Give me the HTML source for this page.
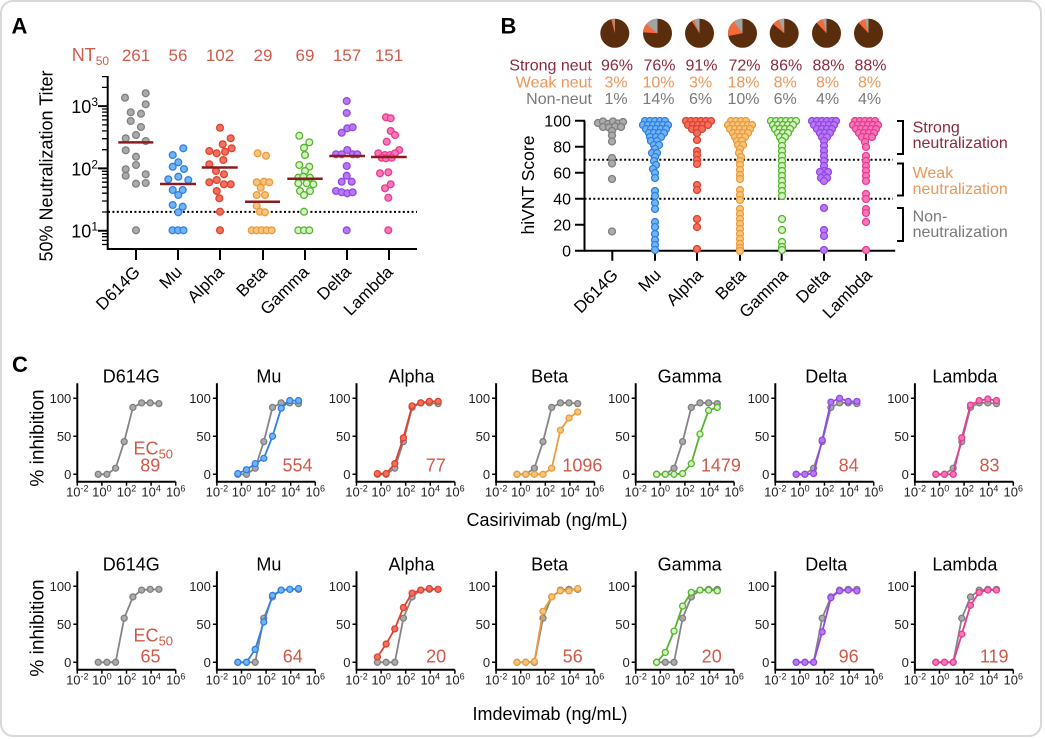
<!DOCTYPE html>
<html><head><meta charset="utf-8">
<style>
html,body{margin:0;padding:0;background:#fff;}
svg{display:block;font-family:"Liberation Sans",Arial,sans-serif;}
.ax{fill:none;stroke:#000;stroke-width:2;}
.tk{font-size:13px;fill:#222;}
.tx{text-anchor:middle;}
.ec{font-size:18px;fill:#d0594a;text-anchor:middle;}
.ttl{font-size:18px;fill:#000;text-anchor:middle;}
.g circle,circle.g{fill:#ababab;stroke:#7f7f7f;stroke-width:1.3;}
.b circle{fill:#72b4f2;stroke:#2e80e6;stroke-width:1.3;}
.r circle{fill:#f2705e;stroke:#e0412e;stroke-width:1.3;}
.o circle{fill:#f7c47e;stroke:#eb9c3a;stroke-width:1.3;}
.gr circle{fill:#d6f2c2;stroke:#55b52e;stroke-width:1.3;}
.p circle{fill:#b779f3;stroke:#9546e6;stroke-width:1.3;}
.pk circle{fill:#f577b8;stroke:#ea3b92;stroke-width:1.3;}
.lg{fill:none;stroke:#858585;stroke-width:1.8;}
.lb{fill:none;stroke:#2e80e6;stroke-width:1.8;}
.lr{fill:none;stroke:#e0412e;stroke-width:1.8;}
.lo{fill:none;stroke:#eb9c3a;stroke-width:1.8;}
.lgr{fill:none;stroke:#55b52e;stroke-width:1.8;}
.lp{fill:none;stroke:#9546e6;stroke-width:1.8;}
.lpk{fill:none;stroke:#ea3b92;stroke-width:1.8;}
.med{stroke:#8a1c1c;stroke-width:2.5;}
.dot{stroke:#000;stroke-width:2;stroke-dasharray:2 2.4;}
.sup{font-size:9px;}
</style></head>
<body>
<svg width="1045" height="739" viewBox="0 0 1045 739" xmlns="http://www.w3.org/2000/svg">
<rect x="1" y="1" width="1040" height="735" rx="12" fill="#fff" stroke="#d8d8d8" stroke-width="2"/>

<!-- ================= PANEL A ================= -->
<text x="11.5" y="33.5" font-size="22" font-weight="bold">A</text>
<g font-size="17" fill="#cf5b4b" text-anchor="middle">
<text x="71.7" y="61" text-anchor="start" font-size="18">NT<tspan font-size="12" dy="4">50</tspan></text>
<text x="136" y="61">261</text><text x="178" y="61">56</text><text x="220" y="61">102</text><text x="263" y="61">29</text><text x="305" y="61">69</text><text x="347" y="61">157</text><text x="389" y="61">151</text>
</g>
<text transform="translate(52.5,166) rotate(-90)" text-anchor="middle" font-size="18">50% Neutralization Titer</text>
<path class="ax" stroke-width="2.5" d="M107.7,76V249H417"/>
<path stroke="#000" stroke-width="2" d="M98,230.7H108M98,168.4H108M98,106.1H108M136,249v11M178,249v11M220,249v11M263,249v11M305,249v11M347,249v11M389,249v11"/>
<path stroke="#000" stroke-width="1.3" d="M102,244.5H108M102,240.4H108M102,236.7H108M102,233.6H108M102,212H108M102,201H108M102,193.2H108M102,187.2H108M102,182.2H108M102,178.1H108M102,174.4H108M102,171.3H108M102,149.7H108M102,138.7H108M102,130.9H108M102,124.9H108M102,119.9H108M102,115.8H108M102,112.1H108M102,109H108M102,87.4H108M102,76.6H108"/>
<g font-size="18" text-anchor="end">
<text x="98" y="113">10<tspan font-size="12" dy="-7">3</tspan></text>
<text x="98" y="175.4">10<tspan font-size="12" dy="-7">2</tspan></text>
<text x="98" y="237.7">10<tspan font-size="12" dy="-7">1</tspan></text>
</g>
<line class="dot" x1="108" y1="211.9" x2="417" y2="211.9"/>
<g class="g">
<circle cx="125" cy="97.7" r="3.4"/><circle cx="145.7" cy="93.3" r="3.4"/><circle cx="145.7" cy="104.3" r="3.4"/><circle cx="130.7" cy="112.3" r="3.4"/><circle cx="141" cy="113.7" r="3.4"/><circle cx="130.7" cy="121" r="3.4"/><circle cx="141" cy="127" r="3.4"/><circle cx="136" cy="135" r="3.4"/><circle cx="125.7" cy="138.3" r="3.4"/><circle cx="145.7" cy="141" r="3.4"/><circle cx="125.7" cy="150.3" r="3.4"/><circle cx="136" cy="156.7" r="3.4"/><circle cx="136" cy="165" r="3.4"/><circle cx="125.7" cy="169.3" r="3.4"/><circle cx="125.7" cy="175.7" r="3.4"/><circle cx="145.7" cy="174.3" r="3.4"/><circle cx="136" cy="183.7" r="3.4"/><circle cx="145.7" cy="183" r="3.4"/><circle cx="136" cy="230.3" r="3.4"/>
</g>
<g class="b">
<circle cx="183.3" cy="148.3" r="3.4"/><circle cx="172.7" cy="155" r="3.4"/><circle cx="178.3" cy="162.3" r="3.4"/><circle cx="172.7" cy="166.7" r="3.4"/><circle cx="184" cy="169" r="3.4"/><circle cx="168.3" cy="179.3" r="3.4"/><circle cx="178.3" cy="176.7" r="3.4"/><circle cx="188.3" cy="180" r="3.4"/><circle cx="172.7" cy="190" r="3.4"/><circle cx="182.7" cy="190" r="3.4"/><circle cx="178.3" cy="195" r="3.4"/><circle cx="172.7" cy="205" r="3.4"/><circle cx="182.7" cy="206.7" r="3.4"/><circle cx="178.3" cy="212.3" r="3.4"/><circle cx="172.5" cy="230.3" r="3.4"/><circle cx="178" cy="230.3" r="3.4"/><circle cx="183.5" cy="230.3" r="3.4"/>
</g>
<g class="r">
<circle cx="220" cy="127.7" r="3.4"/><circle cx="230.7" cy="138.3" r="3.4"/><circle cx="222.7" cy="144.3" r="3.4"/><circle cx="209.3" cy="151" r="3.4"/><circle cx="216.7" cy="153.3" r="3.4"/><circle cx="225" cy="151.7" r="3.4"/><circle cx="231.7" cy="148.3" r="3.4"/><circle cx="223.3" cy="160" r="3.4"/><circle cx="209.3" cy="164.3" r="3.4"/><circle cx="216" cy="171" r="3.4"/><circle cx="224" cy="174.3" r="3.4"/><circle cx="209.3" cy="182.3" r="3.4"/><circle cx="216.7" cy="180" r="3.4"/><circle cx="224" cy="184.3" r="3.4"/><circle cx="230.7" cy="184.3" r="3.4"/><circle cx="216.7" cy="191" r="3.4"/><circle cx="219.3" cy="198.3" r="3.4"/><circle cx="220" cy="211.7" r="3.4"/><circle cx="220" cy="230.3" r="3.4"/>
</g>
<g class="o">
<circle cx="257.7" cy="153.3" r="3.4"/><circle cx="266" cy="155.7" r="3.4"/><circle cx="256.7" cy="182.3" r="3.4"/><circle cx="264" cy="181.7" r="3.4"/><circle cx="269.3" cy="182.3" r="3.4"/><circle cx="260.7" cy="187.7" r="3.4"/><circle cx="256.7" cy="195" r="3.4"/><circle cx="265" cy="195" r="3.4"/><circle cx="256.7" cy="205.7" r="3.4"/><circle cx="260" cy="211.7" r="3.4"/><circle cx="265" cy="212.3" r="3.4"/><circle cx="251.7" cy="230.3" r="3.4"/><circle cx="256.7" cy="230.3" r="3.4"/><circle cx="261.7" cy="230.3" r="3.4"/><circle cx="266.7" cy="230.3" r="3.4"/><circle cx="271.7" cy="230.3" r="3.4"/>
</g>
<g class="gr">
<circle cx="299.3" cy="135.7" r="3.4"/><circle cx="309.3" cy="142.3" r="3.4"/><circle cx="304" cy="147.7" r="3.4"/><circle cx="305" cy="155" r="3.4"/><circle cx="299.3" cy="165" r="3.4"/><circle cx="309.3" cy="166.7" r="3.4"/><circle cx="305" cy="171" r="3.4"/><circle cx="298.3" cy="177.7" r="3.4"/><circle cx="303.3" cy="176.7" r="3.4"/><circle cx="310" cy="177.7" r="3.4"/><circle cx="298.3" cy="183.3" r="3.4"/><circle cx="306.7" cy="183.3" r="3.4"/><circle cx="313.3" cy="184.3" r="3.4"/><circle cx="300" cy="191" r="3.4"/><circle cx="310" cy="191" r="3.4"/><circle cx="304" cy="195" r="3.4"/><circle cx="304" cy="211.7" r="3.4"/><circle cx="298.3" cy="230.3" r="3.4"/><circle cx="304" cy="230.3" r="3.4"/><circle cx="309.3" cy="230.3" r="3.4"/>
</g>
<g class="p">
<circle cx="346.7" cy="101" r="3.4"/><circle cx="346.7" cy="113" r="3.4"/><circle cx="347.3" cy="128.3" r="3.4"/><circle cx="352.7" cy="127.3" r="3.4"/><circle cx="341.7" cy="132.7" r="3.4"/><circle cx="347.3" cy="150" r="3.4"/><circle cx="336" cy="154.3" r="3.4"/><circle cx="341.7" cy="154.3" r="3.4"/><circle cx="352.7" cy="154.3" r="3.4"/><circle cx="357.3" cy="154.3" r="3.4"/><circle cx="346.7" cy="166" r="3.4"/><circle cx="346.7" cy="175.7" r="3.4"/><circle cx="341.7" cy="181.7" r="3.4"/><circle cx="351.7" cy="181.7" r="3.4"/><circle cx="336" cy="191" r="3.4"/><circle cx="341.7" cy="192.3" r="3.4"/><circle cx="347.3" cy="193.3" r="3.4"/><circle cx="352.7" cy="192.3" r="3.4"/><circle cx="346.7" cy="230.3" r="3.4"/>
</g>
<g class="pk">
<circle cx="386" cy="117.3" r="3.4"/><circle cx="390.7" cy="118.3" r="3.4"/><circle cx="390.7" cy="131" r="3.4"/><circle cx="395" cy="135" r="3.4"/><circle cx="386.7" cy="141.7" r="3.4"/><circle cx="399.3" cy="150" r="3.4"/><circle cx="378.3" cy="153.3" r="3.4"/><circle cx="385" cy="155" r="3.4"/><circle cx="390" cy="155" r="3.4"/><circle cx="395" cy="153.3" r="3.4"/><circle cx="381.7" cy="157.7" r="3.4"/><circle cx="386" cy="158.3" r="3.4"/><circle cx="391.7" cy="157.7" r="3.4"/><circle cx="388.3" cy="172.3" r="3.4"/><circle cx="380" cy="173.3" r="3.4"/><circle cx="390.7" cy="184.3" r="3.4"/><circle cx="385" cy="188.3" r="3.4"/><circle cx="388.3" cy="197.7" r="3.4"/><circle cx="388.3" cy="230.3" r="3.4"/>
</g>
<path class="med" d="M118.3,142.4H153.3M160,184H196M201.7,167.5H237.7M245,201.8H280M287.3,178.8H322.7M329.3,156H365M371,157H406.7"/>
<g font-size="17" text-anchor="end">
<text transform="translate(141,273) rotate(-45)">D614G</text>
<text transform="translate(183,273) rotate(-45)">Mu</text>
<text transform="translate(225,273) rotate(-45)">Alpha</text>
<text transform="translate(268,273) rotate(-45)">Beta</text>
<text transform="translate(310,273) rotate(-45)">Gamma</text>
<text transform="translate(352,273) rotate(-45)">Delta</text>
<text transform="translate(394,273) rotate(-45)">Lambda</text>
</g>

<!-- ================= PANEL B ================= -->
<text x="500.5" y="33.5" font-size="22" font-weight="bold">B</text>
<g>
<g transform="translate(614.8,33.3)"><circle r="14.5" fill="#5a2d0c"/><path d="M0,0L-3.61,-14.04A14.5,14.5 0 0 1 0,-14.5Z" fill="#f26b3a"/><path d="M0,0L-0.91,-14.47A14.5,14.5 0 0 1 0,-14.5Z" fill="#a3a3a3"/></g>
<g transform="translate(657.5,33.3)"><circle r="14.5" fill="#5a2d0c"/><path d="M0,0L-14.47,-0.91A14.5,14.5 0 0 1 0,-14.5Z" fill="#f26b3a"/><path d="M0,0L-11.17,-9.24A14.5,14.5 0 0 1 0,-14.5Z" fill="#a3a3a3"/></g>
<g transform="translate(699.5,33.3)"><circle r="14.5" fill="#5a2d0c"/><path d="M0,0L-7.77,-12.24A14.5,14.5 0 0 1 0,-14.5Z" fill="#f26b3a"/><path d="M0,0L-5.34,-13.48A14.5,14.5 0 0 1 0,-14.5Z" fill="#a3a3a3"/></g>
<g transform="translate(742.5,33.3)"><circle r="14.5" fill="#5a2d0c"/><path d="M0,0L-14.24,2.72A14.5,14.5 0 0 1 0,-14.5Z" fill="#f26b3a"/><path d="M0,0L-8.52,-11.73A14.5,14.5 0 0 1 0,-14.5Z" fill="#a3a3a3"/></g>
<g transform="translate(784.2,33.3)"><circle r="14.5" fill="#5a2d0c"/><path d="M0,0L-11.17,-9.24A14.5,14.5 0 0 1 0,-14.5Z" fill="#f26b3a"/><path d="M0,0L-5.34,-13.48A14.5,14.5 0 0 1 0,-14.5Z" fill="#a3a3a3"/></g>
<g transform="translate(826.5,33.3)"><circle r="14.5" fill="#5a2d0c"/><path d="M0,0L-9.93,-10.57A14.5,14.5 0 0 1 0,-14.5Z" fill="#f26b3a"/><path d="M0,0L-3.61,-14.04A14.5,14.5 0 0 1 0,-14.5Z" fill="#a3a3a3"/></g>
<g transform="translate(868.5,33.3)"><circle r="14.5" fill="#5a2d0c"/><path d="M0,0L-9.93,-10.57A14.5,14.5 0 0 1 0,-14.5Z" fill="#f26b3a"/><path d="M0,0L-3.61,-14.04A14.5,14.5 0 0 1 0,-14.5Z" fill="#a3a3a3"/></g>
</g>
<g font-size="16">
<g fill="#8c2a3c"><text x="592" y="70.7" text-anchor="end">Strong neut</text>
<g text-anchor="middle"><text x="617" y="70.7">96%</text><text x="659.5" y="70.7">76%</text><text x="701.5" y="70.7">91%</text><text x="744.5" y="70.7">72%</text><text x="786.2" y="70.7">86%</text><text x="828.5" y="70.7">88%</text><text x="870.5" y="70.7">88%</text></g></g>
<g fill="#e9975a"><text x="592" y="87.3" text-anchor="end">Weak neut</text>
<g text-anchor="middle"><text x="616" y="87.3">3%</text><text x="658.5" y="87.3">10%</text><text x="700.5" y="87.3">3%</text><text x="743.5" y="87.3">18%</text><text x="785.2" y="87.3">8%</text><text x="827.5" y="87.3">8%</text><text x="869.5" y="87.3">8%</text></g></g>
<g fill="#7a7a7a"><text x="592" y="103.8" text-anchor="end">Non-neut</text>
<g text-anchor="middle"><text x="616" y="103.8">1%</text><text x="658.5" y="103.8">14%</text><text x="700.5" y="103.8">6%</text><text x="743.5" y="103.8">10%</text><text x="785.2" y="103.8">6%</text><text x="827.5" y="103.8">4%</text><text x="869.5" y="103.8">4%</text></g></g>
</g>
<text transform="translate(534,185) rotate(-90)" text-anchor="middle" font-size="17.5">hiVNT Score</text>
<path class="ax" stroke-width="2.5" d="M584.5,120.7V250.7H895.2"/>
<path stroke="#000" stroke-width="2" d="M575,120.7H585M575,146.7H585M575,172.7H585M575,198.7H585M575,224.7H585M575,250.7H585M612.3,250.7v10M655,250.7v10M697,250.7v10M740,250.7v10M781.7,250.7v10M824,250.7v10M866,250.7v10"/>
<g font-size="16" text-anchor="end">
<text x="571" y="126.5">100</text><text x="571" y="152.5">80</text><text x="571" y="178.5">60</text><text x="571" y="204.5">40</text><text x="571" y="230.5">20</text><text x="571" y="256.5">0</text>
</g>
<line class="dot" x1="584.5" y1="159.7" x2="893" y2="159.7"/>
<line class="dot" x1="584.5" y1="198.7" x2="893" y2="198.7"/>
<g class="g">
<circle cx="598" cy="123" r="3.5"/><circle cx="603" cy="121.5" r="3.5"/><circle cx="608" cy="124" r="3.5"/><circle cx="613" cy="121.5" r="3.5"/><circle cx="618" cy="123.5" r="3.5"/><circle cx="623" cy="122" r="3.5"/><circle cx="603" cy="127" r="3.5"/><circle cx="609" cy="127.5" r="3.5"/><circle cx="615" cy="126.5" r="3.5"/><circle cx="621" cy="127" r="3.5"/><circle cx="612" cy="131" r="3.5"/><circle cx="612" cy="135.5" r="3.5"/><circle cx="612" cy="141.5" r="3.5"/><circle cx="612" cy="158" r="3.5"/><circle cx="612" cy="163.5" r="3.5"/><circle cx="612" cy="179" r="3.5"/><circle cx="612" cy="231.5" r="3.5"/>
</g>
<g class="b">
<circle cx="645" cy="121" r="3.5"/><circle cx="650" cy="121" r="3.5"/><circle cx="655" cy="121" r="3.5"/><circle cx="660" cy="121" r="3.5"/><circle cx="665" cy="121" r="3.5"/>
<circle cx="643" cy="125" r="3.5"/><circle cx="648" cy="125" r="3.5"/><circle cx="653" cy="125" r="3.5"/><circle cx="658" cy="125" r="3.5"/><circle cx="663" cy="125" r="3.5"/><circle cx="668" cy="125" r="3.5"/>
<circle cx="646" cy="129" r="3.5"/><circle cx="651" cy="129" r="3.5"/><circle cx="656" cy="129" r="3.5"/><circle cx="661" cy="129" r="3.5"/><circle cx="666" cy="129" r="3.5"/>
<circle cx="649" cy="133" r="3.5"/><circle cx="654" cy="133" r="3.5"/><circle cx="659" cy="133" r="3.5"/><circle cx="664" cy="133" r="3.5"/>
<circle cx="650" cy="137" r="3.5"/><circle cx="656" cy="137" r="3.5"/><circle cx="661" cy="137" r="3.5"/>
<circle cx="651" cy="141" r="3.5"/><circle cx="657" cy="141" r="3.5"/><circle cx="654" cy="145" r="3.5"/><circle cx="659" cy="145" r="3.5"/>
<circle cx="655" cy="149" r="3.5"/><circle cx="652" cy="153" r="3.5"/><circle cx="657" cy="153" r="3.5"/><circle cx="655" cy="157" r="3.5"/><circle cx="654" cy="161" r="3.5"/><circle cx="656" cy="165" r="3.5"/><circle cx="653" cy="169" r="3.5"/><circle cx="655" cy="173" r="3.5"/><circle cx="655" cy="178" r="3.5"/>
<circle cx="655" cy="191" r="3.5"/><circle cx="655" cy="196" r="3.5"/><circle cx="655" cy="203" r="3.5"/><circle cx="655" cy="209" r="3.5"/><circle cx="655" cy="222" r="3.5"/><circle cx="655" cy="227" r="3.5"/><circle cx="655" cy="234" r="3.5"/><circle cx="655" cy="240" r="3.5"/><circle cx="655" cy="245" r="3.5"/><circle cx="655" cy="250" r="3.5"/>
</g>
<g class="r">
<circle cx="686" cy="121" r="3.5"/><circle cx="691" cy="121" r="3.5"/><circle cx="696" cy="121" r="3.5"/><circle cx="701" cy="121" r="3.5"/><circle cx="706" cy="121" r="3.5"/><circle cx="711" cy="121" r="3.5"/>
<circle cx="688" cy="125" r="3.5"/><circle cx="693" cy="125" r="3.5"/><circle cx="698" cy="125" r="3.5"/><circle cx="703" cy="125" r="3.5"/><circle cx="708" cy="125" r="3.5"/>
<circle cx="692" cy="129" r="3.5"/><circle cx="697" cy="129" r="3.5"/><circle cx="702" cy="129" r="3.5"/>
<circle cx="697" cy="133" r="3.5"/><circle cx="697" cy="140" r="3.5"/><circle cx="697" cy="151" r="3.5"/><circle cx="697" cy="155" r="3.5"/><circle cx="697" cy="160" r="3.5"/><circle cx="697" cy="164" r="3.5"/><circle cx="697" cy="185" r="3.5"/><circle cx="697" cy="190" r="3.5"/><circle cx="697" cy="219" r="3.5"/><circle cx="697" cy="227" r="3.5"/><circle cx="697" cy="249" r="3.5"/>
</g>
<g class="o">
<circle cx="731" cy="121" r="3.5"/><circle cx="736" cy="121" r="3.5"/><circle cx="741" cy="121" r="3.5"/><circle cx="746" cy="121" r="3.5"/>
<circle cx="728" cy="125" r="3.5"/><circle cx="733" cy="125" r="3.5"/><circle cx="738" cy="125" r="3.5"/><circle cx="743" cy="125" r="3.5"/><circle cx="748" cy="125" r="3.5"/><circle cx="752" cy="125" r="3.5"/>
<circle cx="730" cy="129" r="3.5"/><circle cx="735" cy="129" r="3.5"/><circle cx="740" cy="129" r="3.5"/><circle cx="745" cy="129" r="3.5"/><circle cx="750" cy="129" r="3.5"/>
<circle cx="733" cy="133" r="3.5"/><circle cx="738" cy="133" r="3.5"/><circle cx="743" cy="133" r="3.5"/><circle cx="748" cy="133" r="3.5"/>
<circle cx="735" cy="137" r="3.5"/><circle cx="740" cy="137" r="3.5"/><circle cx="745" cy="137" r="3.5"/>
<circle cx="737" cy="141" r="3.5"/><circle cx="742" cy="141" r="3.5"/><circle cx="738" cy="145" r="3.5"/><circle cx="743" cy="145" r="3.5"/>
<circle cx="740" cy="149" r="3.5"/><circle cx="739" cy="153" r="3.5"/><circle cx="741" cy="157" r="3.5"/><circle cx="740" cy="161" r="3.5"/><circle cx="740" cy="165" r="3.5"/><circle cx="740" cy="170" r="3.5"/><circle cx="740" cy="175" r="3.5"/><circle cx="740" cy="179" r="3.5"/>
<circle cx="740" cy="190" r="3.5"/><circle cx="740" cy="195" r="3.5"/><circle cx="740" cy="200" r="3.5"/>
<circle cx="740" cy="209" r="3.5"/><circle cx="740" cy="214" r="3.5"/><circle cx="740" cy="219" r="3.5"/><circle cx="740" cy="224" r="3.5"/><circle cx="740" cy="229" r="3.5"/><circle cx="740" cy="234" r="3.5"/><circle cx="740" cy="239" r="3.5"/><circle cx="740" cy="244" r="3.5"/><circle cx="740" cy="248" r="3.5"/><circle cx="740" cy="251" r="3.5"/>
</g>
<g class="gr">
<circle cx="771" cy="121" r="3.5"/><circle cx="776" cy="121" r="3.5"/><circle cx="781" cy="121" r="3.5"/><circle cx="786" cy="121" r="3.5"/><circle cx="791" cy="121" r="3.5"/><circle cx="796" cy="121" r="3.5"/>
<circle cx="773" cy="125" r="3.5"/><circle cx="778" cy="125" r="3.5"/><circle cx="783" cy="125" r="3.5"/><circle cx="788" cy="125" r="3.5"/><circle cx="793" cy="125" r="3.5"/>
<circle cx="775" cy="129" r="3.5"/><circle cx="780" cy="129" r="3.5"/><circle cx="785" cy="129" r="3.5"/><circle cx="790" cy="129" r="3.5"/>
<circle cx="778" cy="133" r="3.5"/><circle cx="783" cy="133" r="3.5"/><circle cx="788" cy="133" r="3.5"/>
<circle cx="780" cy="137" r="3.5"/><circle cx="785" cy="137" r="3.5"/>
<circle cx="782" cy="141" r="3.5"/><circle cx="782" cy="146" r="3.5"/><circle cx="782" cy="151" r="3.5"/><circle cx="782" cy="156" r="3.5"/><circle cx="782" cy="161" r="3.5"/><circle cx="782" cy="166" r="3.5"/><circle cx="782" cy="171" r="3.5"/><circle cx="782" cy="176" r="3.5"/><circle cx="782" cy="181" r="3.5"/><circle cx="782" cy="186" r="3.5"/><circle cx="782" cy="191" r="3.5"/><circle cx="782" cy="196" r="3.5"/>
<circle cx="782" cy="219" r="3.5"/><circle cx="782" cy="230" r="3.5"/><circle cx="782" cy="242" r="3.5"/><circle cx="782" cy="247" r="3.5"/><circle cx="782" cy="250" r="3.5"/>
</g>
<g class="p">
<circle cx="812" cy="121" r="3.5"/><circle cx="817" cy="121" r="3.5"/><circle cx="822" cy="121" r="3.5"/><circle cx="827" cy="121" r="3.5"/><circle cx="832" cy="121" r="3.5"/><circle cx="836" cy="121" r="3.5"/>
<circle cx="814" cy="125" r="3.5"/><circle cx="819" cy="125" r="3.5"/><circle cx="824" cy="125" r="3.5"/><circle cx="829" cy="125" r="3.5"/><circle cx="834" cy="125" r="3.5"/>
<circle cx="817" cy="129" r="3.5"/><circle cx="822" cy="129" r="3.5"/><circle cx="827" cy="129" r="3.5"/><circle cx="832" cy="129" r="3.5"/>
<circle cx="820" cy="133" r="3.5"/><circle cx="825" cy="133" r="3.5"/><circle cx="830" cy="133" r="3.5"/>
<circle cx="822" cy="137" r="3.5"/><circle cx="827" cy="137" r="3.5"/>
<circle cx="824" cy="141" r="3.5"/><circle cx="824" cy="146" r="3.5"/><circle cx="824" cy="151" r="3.5"/><circle cx="824" cy="156" r="3.5"/><circle cx="824" cy="161" r="3.5"/><circle cx="824" cy="166" r="3.5"/><circle cx="824" cy="171" r="3.5"/><circle cx="820" cy="172" r="3.5"/><circle cx="828" cy="172" r="3.5"/><circle cx="824" cy="176" r="3.5"/><circle cx="821" cy="178" r="3.5"/><circle cx="827" cy="178" r="3.5"/><circle cx="824" cy="181" r="3.5"/>
<circle cx="824" cy="208" r="3.5"/><circle cx="824" cy="230" r="3.5"/><circle cx="824" cy="236" r="3.5"/><circle cx="824" cy="250" r="3.5"/>
</g>
<g class="pk">
<circle cx="855" cy="121" r="3.5"/><circle cx="860" cy="121" r="3.5"/><circle cx="865" cy="121" r="3.5"/><circle cx="870" cy="121" r="3.5"/><circle cx="875" cy="121" r="3.5"/>
<circle cx="853" cy="125" r="3.5"/><circle cx="858" cy="125" r="3.5"/><circle cx="863" cy="125" r="3.5"/><circle cx="868" cy="125" r="3.5"/><circle cx="873" cy="125" r="3.5"/><circle cx="878" cy="125" r="3.5"/>
<circle cx="856" cy="129" r="3.5"/><circle cx="861" cy="129" r="3.5"/><circle cx="866" cy="129" r="3.5"/><circle cx="871" cy="129" r="3.5"/><circle cx="876" cy="129" r="3.5"/>
<circle cx="859" cy="133" r="3.5"/><circle cx="864" cy="133" r="3.5"/><circle cx="869" cy="133" r="3.5"/><circle cx="874" cy="133" r="3.5"/>
<circle cx="862" cy="137" r="3.5"/><circle cx="867" cy="137" r="3.5"/><circle cx="872" cy="137" r="3.5"/>
<circle cx="865" cy="142" r="3.5"/><circle cx="866" cy="147" r="3.5"/>
<circle cx="866" cy="156" r="3.5"/><circle cx="866" cy="161" r="3.5"/><circle cx="866" cy="166" r="3.5"/><circle cx="866" cy="171" r="3.5"/><circle cx="866" cy="176" r="3.5"/><circle cx="866" cy="181" r="3.5"/>
<circle cx="866" cy="194" r="3.5"/><circle cx="866" cy="199" r="3.5"/><circle cx="866" cy="209" r="3.5"/><circle cx="866" cy="213" r="3.5"/><circle cx="866" cy="222" r="3.5"/><circle cx="866" cy="250" r="3.5"/>
</g>
<path fill="none" stroke="#000" stroke-width="2" d="M897,121H903V154H897M897,163.5H903V195.5H897M897,208H903V241H897"/>
<g font-size="16">
<text x="912.6" y="132.5" fill="#8c2a3c">Strong</text><text x="912.6" y="148" fill="#8c2a3c">neutralization</text>
<text x="912.6" y="178" fill="#e9975a">Weak</text><text x="912.6" y="194" fill="#e9975a">neutralization</text>
<text x="912.6" y="221.5" fill="#7a7a7a">Non-</text><text x="912.6" y="237" fill="#7a7a7a">neutralization</text>
</g>
<g font-size="17" text-anchor="end">
<text transform="translate(619,276) rotate(-45)">D614G</text>
<text transform="translate(662,276) rotate(-45)">Mu</text>
<text transform="translate(704,276) rotate(-45)">Alpha</text>
<text transform="translate(747,276) rotate(-45)">Beta</text>
<text transform="translate(789,276) rotate(-45)">Gamma</text>
<text transform="translate(831,276) rotate(-45)">Delta</text>
<text transform="translate(873,276) rotate(-45)">Lambda</text>
</g>

<!-- ================= PANEL C ================= -->
<text x="12" y="372" font-size="22" font-weight="bold">C</text>
<text transform="translate(43.5,438) rotate(-90)" text-anchor="middle" font-size="19">% inhibition</text>
<text transform="translate(43.5,628) rotate(-90)" text-anchor="middle" font-size="19">% inhibition</text>
<text x="547" y="526" text-anchor="middle" font-size="18">Casirivimab (ng/mL)</text>
<text x="550" y="720" text-anchor="middle" font-size="18">Imdevimab (ng/mL)</text>

<!-- Row 1 -->
<g transform="translate(77.3,474.3)">
<path class="ax" d="M0,-91V7.4H98.4"/><path stroke="#000" stroke-width="1.5" d="M-4,0H0M-4,-38H0M-4,-76H0M0,7.4v4M24.6,7.4v4M49.2,7.4v4M73.8,7.4v4M98.4,7.4v4"/>
<text class="tk" x="-6" y="4.6" text-anchor="end">0</text><text class="tk" x="-6" y="-33.4" text-anchor="end">50</text><text class="tk" x="-6" y="-71.4" text-anchor="end">100</text>
<text class="tk tx" x="0" y="22.4">10<tspan class="sup" dy="-5">-2</tspan></text><text class="tk tx" x="24.6" y="22.4">10<tspan class="sup" dy="-5">0</tspan></text><text class="tk tx" x="49.2" y="22.4">10<tspan class="sup" dy="-5">2</tspan></text><text class="tk tx" x="73.8" y="22.4">10<tspan class="sup" dy="-5">4</tspan></text><text class="tk tx" x="98.4" y="22.4">10<tspan class="sup" dy="-5">6</tspan></text>
<text class="ttl" x="54" y="-92">D614G</text>
<polyline class="lg" points="20.9,0 29.6,0 38.3,-6.08 46.9,-32.68 55.6,-66.88 64.3,-71.44 72.9,-71.44 81.6,-70.68"/>
<g class="g"><circle cx="20.9" cy="0" r="3"/><circle cx="29.6" cy="0" r="3"/><circle cx="38.3" cy="-6.08" r="3"/><circle cx="46.9" cy="-32.68" r="3"/><circle cx="55.6" cy="-66.88" r="3"/><circle cx="64.3" cy="-71.44" r="3"/><circle cx="72.9" cy="-71.44" r="3"/><circle cx="81.6" cy="-70.68" r="3"/></g>
<text class="ec" x="76" y="-20">EC<tspan font-size="13" dy="4">50</tspan></text><text class="ec" x="73" y="-3">89</text>
</g>

<g transform="translate(216.9,474.3)">
<path class="ax" d="M0,-91V7.4H98.4"/><path stroke="#000" stroke-width="1.5" d="M-4,0H0M-4,-38H0M-4,-76H0M0,7.4v4M24.6,7.4v4M49.2,7.4v4M73.8,7.4v4M98.4,7.4v4"/>
<text class="tk" x="-6" y="4.6" text-anchor="end">0</text><text class="tk" x="-6" y="-33.4" text-anchor="end">50</text><text class="tk" x="-6" y="-71.4" text-anchor="end">100</text>
<text class="tk tx" x="0" y="22.4">10<tspan class="sup" dy="-5">-2</tspan></text><text class="tk tx" x="24.6" y="22.4">10<tspan class="sup" dy="-5">0</tspan></text><text class="tk tx" x="49.2" y="22.4">10<tspan class="sup" dy="-5">2</tspan></text><text class="tk tx" x="73.8" y="22.4">10<tspan class="sup" dy="-5">4</tspan></text><text class="tk tx" x="98.4" y="22.4">10<tspan class="sup" dy="-5">6</tspan></text>
<text class="ttl" x="52" y="-92">Mu</text>
<polyline class="lg" points="20.9,0 29.6,0 38.3,-6.08 46.9,-32.68 55.6,-66.88 64.3,-71.44 72.9,-71.44 81.6,-70.68"/>
<g class="g"><circle cx="20.9" cy="0" r="3"/><circle cx="29.6" cy="0" r="3"/><circle cx="38.3" cy="-6.08" r="3"/><circle cx="46.9" cy="-32.68" r="3"/><circle cx="55.6" cy="-66.88" r="3"/><circle cx="64.3" cy="-71.44" r="3"/><circle cx="72.9" cy="-71.44" r="3"/><circle cx="81.6" cy="-70.68" r="3"/></g>
<polyline class="lb" points="20.9,-0.76 29.6,-4.56 38.3,-10.64 46.9,-15.96 55.6,-38 64.3,-66.12 72.9,-73.72 81.6,-73.72"/>
<g class="b"><circle cx="20.9" cy="-0.76" r="3"/><circle cx="29.6" cy="-4.56" r="3"/><circle cx="38.3" cy="-10.64" r="3"/><circle cx="46.9" cy="-15.96" r="3"/><circle cx="55.6" cy="-38" r="3"/><circle cx="64.3" cy="-66.12" r="3"/><circle cx="72.9" cy="-73.72" r="3"/><circle cx="81.6" cy="-73.72" r="3"/></g>
<text class="ec" x="80.6" y="-3">554</text>
</g>

<g transform="translate(356.5,474.3)">
<path class="ax" d="M0,-91V7.4H98.4"/><path stroke="#000" stroke-width="1.5" d="M-4,0H0M-4,-38H0M-4,-76H0M0,7.4v4M24.6,7.4v4M49.2,7.4v4M73.8,7.4v4M98.4,7.4v4"/>
<text class="tk" x="-6" y="4.6" text-anchor="end">0</text><text class="tk" x="-6" y="-33.4" text-anchor="end">50</text><text class="tk" x="-6" y="-71.4" text-anchor="end">100</text>
<text class="tk tx" x="0" y="22.4">10<tspan class="sup" dy="-5">-2</tspan></text><text class="tk tx" x="24.6" y="22.4">10<tspan class="sup" dy="-5">0</tspan></text><text class="tk tx" x="49.2" y="22.4">10<tspan class="sup" dy="-5">2</tspan></text><text class="tk tx" x="73.8" y="22.4">10<tspan class="sup" dy="-5">4</tspan></text><text class="tk tx" x="98.4" y="22.4">10<tspan class="sup" dy="-5">6</tspan></text>
<text class="ttl" x="55" y="-92">Alpha</text>
<polyline class="lg" points="20.9,0 29.6,0 38.3,-6.08 46.9,-32.68 55.6,-66.88 64.3,-71.44 72.9,-71.44 81.6,-70.68"/>
<g class="g"><circle cx="20.9" cy="0" r="3"/><circle cx="29.6" cy="0" r="3"/><circle cx="38.3" cy="-6.08" r="3"/><circle cx="46.9" cy="-32.68" r="3"/><circle cx="55.6" cy="-66.88" r="3"/><circle cx="64.3" cy="-71.44" r="3"/><circle cx="72.9" cy="-71.44" r="3"/><circle cx="81.6" cy="-70.68" r="3"/></g>
<polyline class="lr" points="20.9,-0.76 29.6,-0.76 38.3,-10.64 46.9,-36.48 55.6,-68.4 64.3,-71.44 72.9,-72.96 81.6,-72.96"/>
<g class="r"><circle cx="20.9" cy="-0.76" r="3"/><circle cx="29.6" cy="-0.76" r="3"/><circle cx="38.3" cy="-10.64" r="3"/><circle cx="46.9" cy="-36.48" r="3"/><circle cx="55.6" cy="-68.4" r="3"/><circle cx="64.3" cy="-71.44" r="3"/><circle cx="72.9" cy="-72.96" r="3"/><circle cx="81.6" cy="-72.96" r="3"/></g>
<text class="ec" x="79.3" y="-3">77</text>
</g>

<g transform="translate(496.1,474.3)">
<path class="ax" d="M0,-91V7.4H98.4"/><path stroke="#000" stroke-width="1.5" d="M-4,0H0M-4,-38H0M-4,-76H0M0,7.4v4M24.6,7.4v4M49.2,7.4v4M73.8,7.4v4M98.4,7.4v4"/>
<text class="tk" x="-6" y="4.6" text-anchor="end">0</text><text class="tk" x="-6" y="-33.4" text-anchor="end">50</text><text class="tk" x="-6" y="-71.4" text-anchor="end">100</text>
<text class="tk tx" x="0" y="22.4">10<tspan class="sup" dy="-5">-2</tspan></text><text class="tk tx" x="24.6" y="22.4">10<tspan class="sup" dy="-5">0</tspan></text><text class="tk tx" x="49.2" y="22.4">10<tspan class="sup" dy="-5">2</tspan></text><text class="tk tx" x="73.8" y="22.4">10<tspan class="sup" dy="-5">4</tspan></text><text class="tk tx" x="98.4" y="22.4">10<tspan class="sup" dy="-5">6</tspan></text>
<text class="ttl" x="53.5" y="-92">Beta</text>
<polyline class="lg" points="20.9,0 29.6,0 38.3,-6.08 46.9,-32.68 55.6,-66.88 64.3,-71.44 72.9,-71.44 81.6,-70.68"/>
<g class="g"><circle cx="20.9" cy="0" r="3"/><circle cx="29.6" cy="0" r="3"/><circle cx="38.3" cy="-6.08" r="3"/><circle cx="46.9" cy="-32.68" r="3"/><circle cx="55.6" cy="-66.88" r="3"/><circle cx="64.3" cy="-71.44" r="3"/><circle cx="72.9" cy="-71.44" r="3"/><circle cx="81.6" cy="-70.68" r="3"/></g>
<polyline class="lo" points="20.9,0 29.6,0 38.3,0 46.9,0 55.6,-6.08 64.3,-44.08 72.9,-56.24 81.6,-62.32"/>
<g class="o"><circle cx="20.9" cy="0" r="3"/><circle cx="29.6" cy="0" r="3"/><circle cx="38.3" cy="0" r="3"/><circle cx="46.9" cy="0" r="3"/><circle cx="55.6" cy="-6.08" r="3"/><circle cx="64.3" cy="-44.08" r="3"/><circle cx="72.9" cy="-56.24" r="3"/><circle cx="81.6" cy="-62.32" r="3"/></g>
<text class="ec" x="86.3" y="-3">1096</text>
</g>

<g transform="translate(635.7,474.3)">
<path class="ax" d="M0,-91V7.4H98.4"/><path stroke="#000" stroke-width="1.5" d="M-4,0H0M-4,-38H0M-4,-76H0M0,7.4v4M24.6,7.4v4M49.2,7.4v4M73.8,7.4v4M98.4,7.4v4"/>
<text class="tk" x="-6" y="4.6" text-anchor="end">0</text><text class="tk" x="-6" y="-33.4" text-anchor="end">50</text><text class="tk" x="-6" y="-71.4" text-anchor="end">100</text>
<text class="tk tx" x="0" y="22.4">10<tspan class="sup" dy="-5">-2</tspan></text><text class="tk tx" x="24.6" y="22.4">10<tspan class="sup" dy="-5">0</tspan></text><text class="tk tx" x="49.2" y="22.4">10<tspan class="sup" dy="-5">2</tspan></text><text class="tk tx" x="73.8" y="22.4">10<tspan class="sup" dy="-5">4</tspan></text><text class="tk tx" x="98.4" y="22.4">10<tspan class="sup" dy="-5">6</tspan></text>
<text class="ttl" x="54" y="-92">Gamma</text>
<polyline class="lg" points="20.9,0 29.6,0 38.3,-6.08 46.9,-32.68 55.6,-66.88 64.3,-71.44 72.9,-71.44 81.6,-70.68"/>
<g class="g"><circle cx="20.9" cy="0" r="3"/><circle cx="29.6" cy="0" r="3"/><circle cx="38.3" cy="-6.08" r="3"/><circle cx="46.9" cy="-32.68" r="3"/><circle cx="55.6" cy="-66.88" r="3"/><circle cx="64.3" cy="-71.44" r="3"/><circle cx="72.9" cy="-71.44" r="3"/><circle cx="81.6" cy="-70.68" r="3"/></g>
<polyline class="lgr" points="20.9,0 29.6,0 38.3,0 46.9,-0.76 55.6,-10.64 64.3,-40.28 72.9,-63.84 81.6,-66.88"/>
<g class="gr"><circle cx="20.9" cy="0" r="3"/><circle cx="29.6" cy="0" r="3"/><circle cx="38.3" cy="0" r="3"/><circle cx="46.9" cy="-0.76" r="3"/><circle cx="55.6" cy="-10.64" r="3"/><circle cx="64.3" cy="-40.28" r="3"/><circle cx="72.9" cy="-63.84" r="3"/><circle cx="81.6" cy="-66.88" r="3"/></g>
<text class="ec" x="85.2" y="-3">1479</text>
</g>

<g transform="translate(775.3,474.3)">
<path class="ax" d="M0,-91V7.4H98.4"/><path stroke="#000" stroke-width="1.5" d="M-4,0H0M-4,-38H0M-4,-76H0M0,7.4v4M24.6,7.4v4M49.2,7.4v4M73.8,7.4v4M98.4,7.4v4"/>
<text class="tk" x="-6" y="4.6" text-anchor="end">0</text><text class="tk" x="-6" y="-33.4" text-anchor="end">50</text><text class="tk" x="-6" y="-71.4" text-anchor="end">100</text>
<text class="tk tx" x="0" y="22.4">10<tspan class="sup" dy="-5">-2</tspan></text><text class="tk tx" x="24.6" y="22.4">10<tspan class="sup" dy="-5">0</tspan></text><text class="tk tx" x="49.2" y="22.4">10<tspan class="sup" dy="-5">2</tspan></text><text class="tk tx" x="73.8" y="22.4">10<tspan class="sup" dy="-5">4</tspan></text><text class="tk tx" x="98.4" y="22.4">10<tspan class="sup" dy="-5">6</tspan></text>
<text class="ttl" x="51" y="-92">Delta</text>
<polyline class="lg" points="20.9,0 29.6,0 38.3,-6.08 46.9,-32.68 55.6,-66.88 64.3,-71.44 72.9,-71.44 81.6,-70.68"/>
<g class="g"><circle cx="20.9" cy="0" r="3"/><circle cx="29.6" cy="0" r="3"/><circle cx="38.3" cy="-6.08" r="3"/><circle cx="46.9" cy="-32.68" r="3"/><circle cx="55.6" cy="-66.88" r="3"/><circle cx="64.3" cy="-71.44" r="3"/><circle cx="72.9" cy="-71.44" r="3"/><circle cx="81.6" cy="-70.68" r="3"/></g>
<polyline class="lp" points="20.9,0 29.6,0 38.3,-0.76 46.9,-34.2 55.6,-72.2 64.3,-76 72.9,-72.96 81.6,-72.96"/>
<g class="p"><circle cx="20.9" cy="0" r="3"/><circle cx="29.6" cy="0" r="3"/><circle cx="38.3" cy="-0.76" r="3"/><circle cx="46.9" cy="-34.2" r="3"/><circle cx="55.6" cy="-72.2" r="3"/><circle cx="64.3" cy="-76" r="3"/><circle cx="72.9" cy="-72.96" r="3"/><circle cx="81.6" cy="-72.96" r="3"/></g>
<text class="ec" x="73.3" y="-3">84</text>
</g>

<g transform="translate(914.9,474.3)">
<path class="ax" d="M0,-91V7.4H98.4"/><path stroke="#000" stroke-width="1.5" d="M-4,0H0M-4,-38H0M-4,-76H0M0,7.4v4M24.6,7.4v4M49.2,7.4v4M73.8,7.4v4M98.4,7.4v4"/>
<text class="tk" x="-6" y="4.6" text-anchor="end">0</text><text class="tk" x="-6" y="-33.4" text-anchor="end">50</text><text class="tk" x="-6" y="-71.4" text-anchor="end">100</text>
<text class="tk tx" x="0" y="22.4">10<tspan class="sup" dy="-5">-2</tspan></text><text class="tk tx" x="24.6" y="22.4">10<tspan class="sup" dy="-5">0</tspan></text><text class="tk tx" x="49.2" y="22.4">10<tspan class="sup" dy="-5">2</tspan></text><text class="tk tx" x="73.8" y="22.4">10<tspan class="sup" dy="-5">4</tspan></text><text class="tk tx" x="98.4" y="22.4">10<tspan class="sup" dy="-5">6</tspan></text>
<text class="ttl" x="50" y="-92">Lambda</text>
<polyline class="lg" points="20.9,0 29.6,0 38.3,-6.08 46.9,-32.68 55.6,-66.88 64.3,-71.44 72.9,-71.44 81.6,-70.68"/>
<g class="g"><circle cx="20.9" cy="0" r="3"/><circle cx="29.6" cy="0" r="3"/><circle cx="38.3" cy="-6.08" r="3"/><circle cx="46.9" cy="-32.68" r="3"/><circle cx="55.6" cy="-66.88" r="3"/><circle cx="64.3" cy="-71.44" r="3"/><circle cx="72.9" cy="-71.44" r="3"/><circle cx="81.6" cy="-70.68" r="3"/></g>
<polyline class="lpk" points="20.9,0 29.6,0 38.3,0 46.9,-36.48 55.6,-69.16 64.3,-73.72 72.9,-75.24 81.6,-73.72"/>
<g class="pk"><circle cx="20.9" cy="0" r="3"/><circle cx="29.6" cy="0" r="3"/><circle cx="38.3" cy="0" r="3"/><circle cx="46.9" cy="-36.48" r="3"/><circle cx="55.6" cy="-69.16" r="3"/><circle cx="64.3" cy="-73.72" r="3"/><circle cx="72.9" cy="-75.24" r="3"/><circle cx="81.6" cy="-73.72" r="3"/></g>
<text class="ec" x="74.6" y="-3">83</text>
</g>

<!-- Row 2 -->
<g transform="translate(77.3,662.3)">
<path class="ax" d="M0,-91V7.4H98.4"/><path stroke="#000" stroke-width="1.5" d="M-4,0H0M-4,-38H0M-4,-76H0M0,7.4v4M24.6,7.4v4M49.2,7.4v4M73.8,7.4v4M98.4,7.4v4"/>
<text class="tk" x="-6" y="4.6" text-anchor="end">0</text><text class="tk" x="-6" y="-33.4" text-anchor="end">50</text><text class="tk" x="-6" y="-71.4" text-anchor="end">100</text>
<text class="tk tx" x="0" y="22.4">10<tspan class="sup" dy="-5">-2</tspan></text><text class="tk tx" x="24.6" y="22.4">10<tspan class="sup" dy="-5">0</tspan></text><text class="tk tx" x="49.2" y="22.4">10<tspan class="sup" dy="-5">2</tspan></text><text class="tk tx" x="73.8" y="22.4">10<tspan class="sup" dy="-5">4</tspan></text><text class="tk tx" x="98.4" y="22.4">10<tspan class="sup" dy="-5">6</tspan></text>
<text class="ttl" x="54" y="-92">D614G</text>
<polyline class="lg" points="20.9,0 29.6,0 38.3,0 46.9,-44.08 55.6,-65.36 64.3,-72.2 72.9,-72.96 81.6,-72.96"/>
<g class="g"><circle cx="20.9" cy="0" r="3"/><circle cx="29.6" cy="0" r="3"/><circle cx="38.3" cy="0" r="3"/><circle cx="46.9" cy="-44.08" r="3"/><circle cx="55.6" cy="-65.36" r="3"/><circle cx="64.3" cy="-72.2" r="3"/><circle cx="72.9" cy="-72.96" r="3"/><circle cx="81.6" cy="-72.96" r="3"/></g>
<text class="ec" x="76" y="-21">EC<tspan font-size="13" dy="4">50</tspan></text><text class="ec" x="73.2" y="0">65</text>
</g>

<g transform="translate(216.9,662.3)">
<path class="ax" d="M0,-91V7.4H98.4"/><path stroke="#000" stroke-width="1.5" d="M-4,0H0M-4,-38H0M-4,-76H0M0,7.4v4M24.6,7.4v4M49.2,7.4v4M73.8,7.4v4M98.4,7.4v4"/>
<text class="tk" x="-6" y="4.6" text-anchor="end">0</text><text class="tk" x="-6" y="-33.4" text-anchor="end">50</text><text class="tk" x="-6" y="-71.4" text-anchor="end">100</text>
<text class="tk tx" x="0" y="22.4">10<tspan class="sup" dy="-5">-2</tspan></text><text class="tk tx" x="24.6" y="22.4">10<tspan class="sup" dy="-5">0</tspan></text><text class="tk tx" x="49.2" y="22.4">10<tspan class="sup" dy="-5">2</tspan></text><text class="tk tx" x="73.8" y="22.4">10<tspan class="sup" dy="-5">4</tspan></text><text class="tk tx" x="98.4" y="22.4">10<tspan class="sup" dy="-5">6</tspan></text>
<text class="ttl" x="52" y="-92">Mu</text>
<polyline class="lg" points="20.9,0 29.6,0 38.3,0 46.9,-44.08 55.6,-65.36 64.3,-72.2 72.9,-72.96 81.6,-72.96"/>
<g class="g"><circle cx="20.9" cy="0" r="3"/><circle cx="29.6" cy="0" r="3"/><circle cx="38.3" cy="0" r="3"/><circle cx="46.9" cy="-44.08" r="3"/><circle cx="55.6" cy="-65.36" r="3"/><circle cx="64.3" cy="-72.2" r="3"/><circle cx="72.9" cy="-72.96" r="3"/><circle cx="81.6" cy="-72.96" r="3"/></g>
<polyline class="lb" points="20.9,0 29.6,0 38.3,-12.92 46.9,-40.28 55.6,-66.88 64.3,-72.2 72.9,-72.96 81.6,-73.72"/>
<g class="b"><circle cx="20.9" cy="0" r="3"/><circle cx="29.6" cy="0" r="3"/><circle cx="38.3" cy="-12.92" r="3"/><circle cx="46.9" cy="-40.28" r="3"/><circle cx="55.6" cy="-66.88" r="3"/><circle cx="64.3" cy="-72.2" r="3"/><circle cx="72.9" cy="-72.96" r="3"/><circle cx="81.6" cy="-73.72" r="3"/></g>
<text class="ec" x="75.9" y="0">64</text>
</g>

<g transform="translate(356.5,662.3)">
<path class="ax" d="M0,-91V7.4H98.4"/><path stroke="#000" stroke-width="1.5" d="M-4,0H0M-4,-38H0M-4,-76H0M0,7.4v4M24.6,7.4v4M49.2,7.4v4M73.8,7.4v4M98.4,7.4v4"/>
<text class="tk" x="-6" y="4.6" text-anchor="end">0</text><text class="tk" x="-6" y="-33.4" text-anchor="end">50</text><text class="tk" x="-6" y="-71.4" text-anchor="end">100</text>
<text class="tk tx" x="0" y="22.4">10<tspan class="sup" dy="-5">-2</tspan></text><text class="tk tx" x="24.6" y="22.4">10<tspan class="sup" dy="-5">0</tspan></text><text class="tk tx" x="49.2" y="22.4">10<tspan class="sup" dy="-5">2</tspan></text><text class="tk tx" x="73.8" y="22.4">10<tspan class="sup" dy="-5">4</tspan></text><text class="tk tx" x="98.4" y="22.4">10<tspan class="sup" dy="-5">6</tspan></text>
<text class="ttl" x="55" y="-92">Alpha</text>
<polyline class="lg" points="20.9,0 29.6,0 38.3,0 46.9,-44.08 55.6,-65.36 64.3,-72.2 72.9,-72.96 81.6,-72.96"/>
<g class="g"><circle cx="20.9" cy="0" r="3"/><circle cx="29.6" cy="0" r="3"/><circle cx="38.3" cy="0" r="3"/><circle cx="46.9" cy="-44.08" r="3"/><circle cx="55.6" cy="-65.36" r="3"/><circle cx="64.3" cy="-72.2" r="3"/><circle cx="72.9" cy="-72.96" r="3"/><circle cx="81.6" cy="-72.96" r="3"/></g>
<polyline class="lr" points="20.9,-5.32 29.6,-18.24 38.3,-33.44 46.9,-54.72 55.6,-69.16 64.3,-72.2 72.9,-73.72 81.6,-72.96"/>
<g class="r"><circle cx="20.9" cy="-5.32" r="3"/><circle cx="29.6" cy="-18.24" r="3"/><circle cx="38.3" cy="-33.44" r="3"/><circle cx="46.9" cy="-54.72" r="3"/><circle cx="55.6" cy="-69.16" r="3"/><circle cx="64.3" cy="-72.2" r="3"/><circle cx="72.9" cy="-73.72" r="3"/><circle cx="81.6" cy="-72.96" r="3"/></g>
<text class="ec" x="79.7" y="0">20</text>
</g>

<g transform="translate(496.1,662.3)">
<path class="ax" d="M0,-91V7.4H98.4"/><path stroke="#000" stroke-width="1.5" d="M-4,0H0M-4,-38H0M-4,-76H0M0,7.4v4M24.6,7.4v4M49.2,7.4v4M73.8,7.4v4M98.4,7.4v4"/>
<text class="tk" x="-6" y="4.6" text-anchor="end">0</text><text class="tk" x="-6" y="-33.4" text-anchor="end">50</text><text class="tk" x="-6" y="-71.4" text-anchor="end">100</text>
<text class="tk tx" x="0" y="22.4">10<tspan class="sup" dy="-5">-2</tspan></text><text class="tk tx" x="24.6" y="22.4">10<tspan class="sup" dy="-5">0</tspan></text><text class="tk tx" x="49.2" y="22.4">10<tspan class="sup" dy="-5">2</tspan></text><text class="tk tx" x="73.8" y="22.4">10<tspan class="sup" dy="-5">4</tspan></text><text class="tk tx" x="98.4" y="22.4">10<tspan class="sup" dy="-5">6</tspan></text>
<text class="ttl" x="53.5" y="-92">Beta</text>
<polyline class="lg" points="20.9,0 29.6,0 38.3,0 46.9,-44.08 55.6,-65.36 64.3,-72.2 72.9,-72.96 81.6,-72.96"/>
<g class="g"><circle cx="20.9" cy="0" r="3"/><circle cx="29.6" cy="0" r="3"/><circle cx="38.3" cy="0" r="3"/><circle cx="46.9" cy="-44.08" r="3"/><circle cx="55.6" cy="-65.36" r="3"/><circle cx="64.3" cy="-72.2" r="3"/><circle cx="72.9" cy="-72.96" r="3"/><circle cx="81.6" cy="-72.96" r="3"/></g>
<polyline class="lo" points="20.9,0 29.6,0 38.3,-0.76 46.9,-50.92 55.6,-65.36 64.3,-71.44 72.9,-71.44 81.6,-73.72"/>
<g class="o"><circle cx="20.9" cy="0" r="3"/><circle cx="29.6" cy="0" r="3"/><circle cx="38.3" cy="-0.76" r="3"/><circle cx="46.9" cy="-50.92" r="3"/><circle cx="55.6" cy="-65.36" r="3"/><circle cx="64.3" cy="-71.44" r="3"/><circle cx="72.9" cy="-71.44" r="3"/><circle cx="81.6" cy="-73.72" r="3"/></g>
<text class="ec" x="76.6" y="0">56</text>
</g>

<g transform="translate(635.7,662.3)">
<path class="ax" d="M0,-91V7.4H98.4"/><path stroke="#000" stroke-width="1.5" d="M-4,0H0M-4,-38H0M-4,-76H0M0,7.4v4M24.6,7.4v4M49.2,7.4v4M73.8,7.4v4M98.4,7.4v4"/>
<text class="tk" x="-6" y="4.6" text-anchor="end">0</text><text class="tk" x="-6" y="-33.4" text-anchor="end">50</text><text class="tk" x="-6" y="-71.4" text-anchor="end">100</text>
<text class="tk tx" x="0" y="22.4">10<tspan class="sup" dy="-5">-2</tspan></text><text class="tk tx" x="24.6" y="22.4">10<tspan class="sup" dy="-5">0</tspan></text><text class="tk tx" x="49.2" y="22.4">10<tspan class="sup" dy="-5">2</tspan></text><text class="tk tx" x="73.8" y="22.4">10<tspan class="sup" dy="-5">4</tspan></text><text class="tk tx" x="98.4" y="22.4">10<tspan class="sup" dy="-5">6</tspan></text>
<text class="ttl" x="54" y="-92">Gamma</text>
<polyline class="lg" points="20.9,0 29.6,0 38.3,0 46.9,-44.08 55.6,-65.36 64.3,-72.2 72.9,-72.96 81.6,-72.96"/>
<g class="g"><circle cx="20.9" cy="0" r="3"/><circle cx="29.6" cy="0" r="3"/><circle cx="38.3" cy="0" r="3"/><circle cx="46.9" cy="-44.08" r="3"/><circle cx="55.6" cy="-65.36" r="3"/><circle cx="64.3" cy="-72.2" r="3"/><circle cx="72.9" cy="-72.96" r="3"/><circle cx="81.6" cy="-72.96" r="3"/></g>
<polyline class="lgr" points="20.9,0 29.6,-9.88 38.3,-31.16 46.9,-56.24 55.6,-69.92 64.3,-72.2 72.9,-72.2 81.6,-71.44"/>
<g class="gr"><circle cx="20.9" cy="0" r="3"/><circle cx="29.6" cy="-9.88" r="3"/><circle cx="38.3" cy="-31.16" r="3"/><circle cx="46.9" cy="-56.24" r="3"/><circle cx="55.6" cy="-69.92" r="3"/><circle cx="64.3" cy="-72.2" r="3"/><circle cx="72.9" cy="-72.2" r="3"/><circle cx="81.6" cy="-71.44" r="3"/></g>
<text class="ec" x="76" y="0">20</text>
</g>

<g transform="translate(775.3,662.3)">
<path class="ax" d="M0,-91V7.4H98.4"/><path stroke="#000" stroke-width="1.5" d="M-4,0H0M-4,-38H0M-4,-76H0M0,7.4v4M24.6,7.4v4M49.2,7.4v4M73.8,7.4v4M98.4,7.4v4"/>
<text class="tk" x="-6" y="4.6" text-anchor="end">0</text><text class="tk" x="-6" y="-33.4" text-anchor="end">50</text><text class="tk" x="-6" y="-71.4" text-anchor="end">100</text>
<text class="tk tx" x="0" y="22.4">10<tspan class="sup" dy="-5">-2</tspan></text><text class="tk tx" x="24.6" y="22.4">10<tspan class="sup" dy="-5">0</tspan></text><text class="tk tx" x="49.2" y="22.4">10<tspan class="sup" dy="-5">2</tspan></text><text class="tk tx" x="73.8" y="22.4">10<tspan class="sup" dy="-5">4</tspan></text><text class="tk tx" x="98.4" y="22.4">10<tspan class="sup" dy="-5">6</tspan></text>
<text class="ttl" x="51" y="-92">Delta</text>
<polyline class="lg" points="20.9,0 29.6,0 38.3,0 46.9,-44.08 55.6,-65.36 64.3,-72.2 72.9,-72.96 81.6,-72.96"/>
<g class="g"><circle cx="20.9" cy="0" r="3"/><circle cx="29.6" cy="0" r="3"/><circle cx="38.3" cy="0" r="3"/><circle cx="46.9" cy="-44.08" r="3"/><circle cx="55.6" cy="-65.36" r="3"/><circle cx="64.3" cy="-72.2" r="3"/><circle cx="72.9" cy="-72.96" r="3"/><circle cx="81.6" cy="-72.96" r="3"/></g>
<polyline class="lp" points="20.9,0 29.6,0 38.3,0 46.9,-30.4 55.6,-64.6 64.3,-71.44 72.9,-72.2 81.6,-71.44"/>
<g class="p"><circle cx="20.9" cy="0" r="3"/><circle cx="29.6" cy="0" r="3"/><circle cx="38.3" cy="0" r="3"/><circle cx="46.9" cy="-30.4" r="3"/><circle cx="55.6" cy="-64.6" r="3"/><circle cx="64.3" cy="-71.44" r="3"/><circle cx="72.9" cy="-72.2" r="3"/><circle cx="81.6" cy="-71.44" r="3"/></g>
<text class="ec" x="73.3" y="0">96</text>
</g>

<g transform="translate(914.9,662.3)">
<path class="ax" d="M0,-91V7.4H98.4"/><path stroke="#000" stroke-width="1.5" d="M-4,0H0M-4,-38H0M-4,-76H0M0,7.4v4M24.6,7.4v4M49.2,7.4v4M73.8,7.4v4M98.4,7.4v4"/>
<text class="tk" x="-6" y="4.6" text-anchor="end">0</text><text class="tk" x="-6" y="-33.4" text-anchor="end">50</text><text class="tk" x="-6" y="-71.4" text-anchor="end">100</text>
<text class="tk tx" x="0" y="22.4">10<tspan class="sup" dy="-5">-2</tspan></text><text class="tk tx" x="24.6" y="22.4">10<tspan class="sup" dy="-5">0</tspan></text><text class="tk tx" x="49.2" y="22.4">10<tspan class="sup" dy="-5">2</tspan></text><text class="tk tx" x="73.8" y="22.4">10<tspan class="sup" dy="-5">4</tspan></text><text class="tk tx" x="98.4" y="22.4">10<tspan class="sup" dy="-5">6</tspan></text>
<text class="ttl" x="50" y="-92">Lambda</text>
<polyline class="lg" points="20.9,0 29.6,0 38.3,0 46.9,-44.08 55.6,-65.36 64.3,-72.2 72.9,-72.96 81.6,-72.96"/>
<g class="g"><circle cx="20.9" cy="0" r="3"/><circle cx="29.6" cy="0" r="3"/><circle cx="38.3" cy="0" r="3"/><circle cx="46.9" cy="-44.08" r="3"/><circle cx="55.6" cy="-65.36" r="3"/><circle cx="64.3" cy="-72.2" r="3"/><circle cx="72.9" cy="-72.96" r="3"/><circle cx="81.6" cy="-72.96" r="3"/></g>
<polyline class="lpk" points="20.9,0 29.6,0 38.3,0 46.9,-28.12 55.6,-57 64.3,-69.92 72.9,-72.2 81.6,-72.2"/>
<g class="pk"><circle cx="20.9" cy="0" r="3"/><circle cx="29.6" cy="0" r="3"/><circle cx="38.3" cy="0" r="3"/><circle cx="46.9" cy="-28.12" r="3"/><circle cx="55.6" cy="-57" r="3"/><circle cx="64.3" cy="-69.92" r="3"/><circle cx="72.9" cy="-72.2" r="3"/><circle cx="81.6" cy="-72.2" r="3"/></g>
<text class="ec" x="79.3" y="0">119</text>
</g>
</svg>
</body></html>
